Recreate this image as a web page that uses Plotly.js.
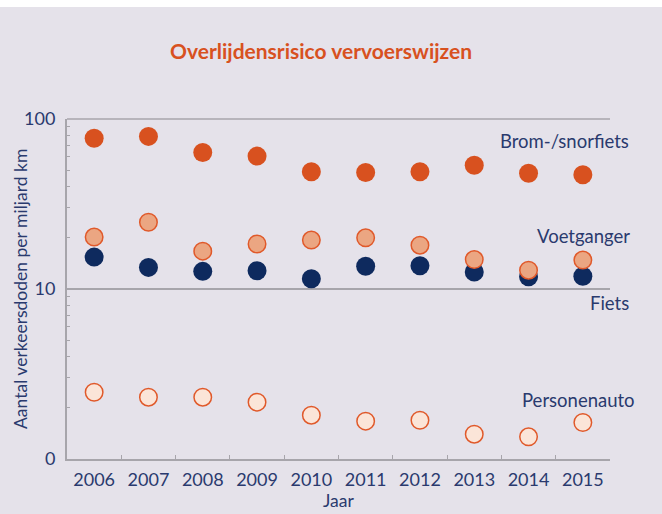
<!DOCTYPE html>
<html>
<head>
<meta charset="utf-8">
<script src="https://cdn.plot.ly/plotly-3.0.1.min.js"></script>
<style>
  html, body { margin: 0; padding: 0; background: #ffffff; }
  #chart { position: absolute; left: 0; top: 7px; width: 662px; height: 507px; }
</style>
</head>
<body>
<div id="chart"></div>
<script>
const years = ['2006','2007','2008','2009','2010','2011','2012','2013','2014','2015'];
const seriesNames = ['Brom-/snorfiets', 'Fiets', 'Voetganger', 'Personenauto'];
const bromSnorfiets = [77, 79, 63.5, 60.5, 49, 48.5, 49, 53.5, 48, 47];
const fiets = [15.4, 13.4, 12.7, 12.8, 11.5, 13.6, 13.7, 12.6, 11.8, 11.9];
const voetganger = [20.2, 24.7, 16.7, 18.4, 19.4, 20.0, 18.1, 14.9, 12.9, 14.8];
const personenauto = [2.47, 2.31, 2.31, 2.16, 1.81, 1.67, 1.69, 1.40, 1.35, 1.64];
const yTickVals = [1, 10, 100];
const yTickText = ['0', '10', '100'];
const yMinorVals = [2,3,4,5,6,7,8,9,20,30,40,50,60,70,80,90];
const yTitle = 'Aantal verkeersdoden per miljard km';
const xTitle = 'Jaar';

const FONT = 'Lato, "Open Sans", sans-serif';
const NAVY = '#2a3a6e';
const ORANGE = '#d8511f';
const GRAY = '#a7a5ab';

const traces = [
  { x: years, y: bromSnorfiets, name: seriesNames[0], type: 'scatter', mode: 'markers',
    marker: { size: 19, color: ORANGE, line: { width: 0 } } },
  { x: years, y: fiets, name: seriesNames[1], type: 'scatter', mode: 'markers',
    marker: { size: 19, color: '#0e2a5e', line: { width: 0 } } },
  { x: years, y: voetganger, name: seriesNames[2], type: 'scatter', mode: 'markers',
    marker: { size: 17.5, color: '#eba682', line: { width: 1.5, color: '#e0592a' } } },
  { x: years, y: personenauto, name: seriesNames[3], type: 'scatter', mode: 'markers',
    marker: { size: 17.5, color: '#fbe5d8', line: { width: 1.5, color: '#e0592a' } } }
];

const labelPos = [
  { x: 1.0387, y: 0.935 },
  { x: 1.0387, y: 0.459 },
  { x: 1.0405, y: 0.656 },
  { x: 1.0497, y: 0.174 }
];

const annotations = seriesNames.map((n, i) => ({
  text: n, xref: 'paper', yref: 'paper', x: labelPos[i].x, y: labelPos[i].y,
  xanchor: 'right', yanchor: 'middle', showarrow: false,
  font: { family: FONT, size: 18.5, color: NAVY }
}));
annotations.push({
  text: yTitle, xref: 'paper', yref: 'paper', x: -0.0866, y: 0.5,
  xanchor: 'center', yanchor: 'middle', textangle: -90, showarrow: false,
  font: { family: FONT, size: 17.5, color: NAVY }
});
annotations.push({
  text: xTitle, xref: 'paper', yref: 'paper', x: 0.4991, y: -0.1235,
  xanchor: 'center', yanchor: 'middle', showarrow: false,
  font: { family: FONT, size: 17.5, color: NAVY }
});

const layout = {
  width: 662, height: 507,
  paper_bgcolor: '#e5e2ea', plot_bgcolor: '#e5e2ea',
  margin: { l: 67, r: 52, t: 112, b: 55 },
  showlegend: false,
  font: { family: FONT, size: 16, color: NAVY },
  title: { text: '<b>Overlijdensrisico vervoerswijzen</b>', x: 0.485, xanchor: 'center',
           y: 0.911, yanchor: 'middle', yref: 'container',
           font: { family: FONT, size: 21, color: ORANGE } },
  xaxis: {
    type: 'category', range: [-0.5, 9.5], showgrid: false, zeroline: false,
    showline: true, linecolor: GRAY, linewidth: 2,
    ticks: 'inside', tickson: 'boundaries', ticklen: 4, tickcolor: GRAY, tickwidth: 1,
    ticklabelstandoff: 3,
    tickfont: { family: FONT, size: 18, color: NAVY }
  },
  yaxis: {
    type: 'log', range: [0, 2], zeroline: false,
    showline: true, linecolor: GRAY, linewidth: 2,
    showgrid: true, gridcolor: GRAY, gridwidth: 1.5,
    tickmode: 'array', tickvals: yTickVals, ticktext: yTickText,
    ticks: '', ticklabelstandoff: 6,
    tickfont: { family: FONT, size: 18, color: NAVY },
    minor: { tickmode: 'array', tickvals: yMinorVals, ticks: 'inside', ticklen: 3,
             tickcolor: GRAY, tickwidth: 1, showgrid: false }
  },
  shapes: [
    { type: 'line', xref: 'paper', yref: 'paper', x0: 0, x1: 1, y0: 1, y1: 1,
      line: { color: GRAY, width: 1.5 } }
  ],
  annotations: annotations
};

Plotly.newPlot('chart', traces, layout, { displayModeBar: false, staticPlot: true });
</script>
</body>
</html>
